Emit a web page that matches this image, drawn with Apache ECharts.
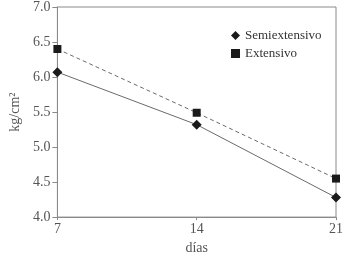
<!DOCTYPE html>
<html>
<head>
<meta charset="utf-8">
<script src="https://cdn.jsdelivr.net/npm/echarts@6/dist/echarts.min.js"></script>
<style>
  html, body { margin: 0; padding: 0; background: #fff; }
  #chart { width: 346px; height: 260px; }
</style>
</head>
<body>
<div id="chart"></div>
<script>
var dias = [7, 14, 21];
var semiextensivo = [6.07, 5.32, 4.28];
var extensivo = [6.40, 5.49, 4.55];

var myChart = echarts.init(document.getElementById('chart'));

var font = 'Liberation Serif';
var textColor = '#555';
var axisColor = '#8a8a8a';

function pairs(xs, ys) {
    var out = [];
    for (var i = 0; i < xs.length; i++) {
        out.push([xs[i], ys[i]]);
    }
    return out;
}

var option = {
    animation: false,
    textStyle: { fontFamily: font },
    legend: {
        orient: 'vertical',
        left: 226,
        top: 24,
        itemWidth: 9,
        itemHeight: 9,
        itemGap: 5,
        textStyle: { color: '#333', fontSize: 13, fontFamily: font },
        data: [
            { name: 'Semiextensivo', icon: 'diamond' },
            { name: 'Extensivo', icon: 'rect' }
        ]
    },
    grid: {
        left: 49,
        right: 8,
        top: 5,
        bottom: 38,
        show: true,
        borderColor: axisColor,
        borderWidth: 1
    },
    xAxis: {
        type: 'value',
        min: 7,
        max: 21,
        interval: 7,
        name: 'días',
        nameLocation: 'middle',
        nameGap: 23,
        nameTextStyle: { color: textColor, fontSize: 14, fontFamily: font },
        splitLine: { show: false },
        axisLine: { lineStyle: { color: axisColor } },
        axisTick: { length: 3, lineStyle: { color: axisColor } },
        axisLabel: { color: textColor, fontSize: 14, fontFamily: font, margin: 5 }
    },
    yAxis: {
        type: 'value',
        min: 4,
        max: 7,
        interval: 0.5,
        name: 'kg/cm²',
        nameLocation: 'middle',
        nameGap: 34,
        nameTextStyle: { color: textColor, fontSize: 14, fontFamily: font },
        splitLine: { show: false },
        axisLine: { show: true, lineStyle: { color: axisColor } },
        axisTick: { show: true, length: 5, lineStyle: { color: axisColor } },
        axisLabel: {
            color: textColor, fontSize: 14, fontFamily: font, margin: 7,
            formatter: function (v) { return v.toFixed(1); }
        }
    },
    series: [
        {
            name: 'Semiextensivo',
            type: 'line',
            data: pairs(dias, semiextensivo),
            symbol: 'diamond',
            symbolSize: 10,
            itemStyle: { color: '#1a1a1a' },
            lineStyle: { color: '#6a6a6a', width: 1, type: 'solid' }
        },
        {
            name: 'Extensivo',
            type: 'line',
            data: pairs(dias, extensivo),
            symbol: 'rect',
            symbolSize: 8,
            itemStyle: { color: '#1a1a1a' },
            lineStyle: { color: '#6a6a6a', width: 1, type: [4, 3] }
        }
    ]
};

myChart.setOption(option);
</script>
</body>
</html>
